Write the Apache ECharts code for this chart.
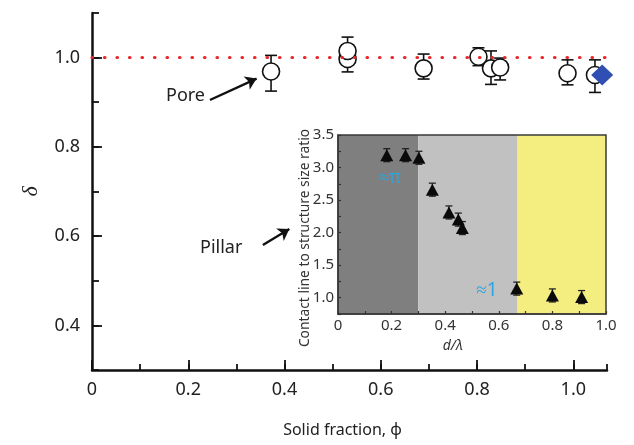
<!DOCTYPE html>
<html>
<head>
<meta charset="utf-8">
<script src="https://cdn.jsdelivr.net/npm/echarts@6/dist/echarts.min.js"></script>
<style>
  html, body { margin: 0; padding: 0; background: #ffffff; }
  #chart { width: 634px; height: 445px; }
</style>
</head>
<body>
<div id="chart"></div>
<script>
// ---- main plot: contact ratio delta vs solid fraction ----
const poreX  = [0.372, 0.531, 0.531, 0.689, 0.803, 0.829, 0.848, 0.988, 1.045];
const poreY  = [0.969, 0.997, 1.015, 0.976, 1.002, 0.976, 0.978, 0.965, 0.961];
const poreLo = [0.925, 0.968, 0.985, 0.952, 0.982, 0.940, 0.950, 0.939, 0.922];
const poreHi = [1.005, 1.025, 1.046, 1.008, 1.022, 1.015, 0.999, 0.995, 0.995];
const pillarX = [1.06];
const pillarY = [0.961];
const refLevel = 1.0;
const xMajorTicks = [0, 0.2, 0.4, 0.6, 0.8, 1.0];
const yMajorTicks = [0.4, 0.6, 0.8, 1.0];

// ---- inset: contact line to structure size ratio vs d/lambda ----
const insetX   = [0.182, 0.252, 0.302, 0.352, 0.414, 0.449, 0.464, 0.667, 0.800, 0.909];
const insetY   = [3.19, 3.19, 3.15, 2.66, 2.31, 2.20, 2.07, 1.14, 1.035, 1.01];
const insetErr = [0.10, 0.10, 0.10, 0.10, 0.10, 0.10, 0.10, 0.10, 0.10, 0.10];
const regionEdges  = [0, 0.3, 0.67, 1.0];
const regionColors = ['#7f7f7f', '#c1c1c1', '#f4ed80'];
const insetXTicks = [0, 0.2, 0.4, 0.6, 0.8, 1.0];
const insetYTicks = [1.0, 1.5, 2.0, 2.5, 3.0, 3.5];

const FONT = 'Noto Sans';
const fmt1 = v => (Math.abs(v) < 1e-9 ? '0' : v.toFixed(1));

function errorBarRenderer(capHalf, width, color) {
  return function (params, api) {
    const x = api.value(0);
    const top = api.coord([x, api.value(2)]);
    const bot = api.coord([x, api.value(1)]);
    const st = { stroke: color, lineWidth: width };
    return {
      type: 'group',
      children: [
        { type: 'line', shape: { x1: top[0], y1: top[1], x2: bot[0], y2: bot[1] }, style: st },
        { type: 'line', shape: { x1: top[0] - capHalf, y1: top[1], x2: top[0] + capHalf, y2: top[1] }, style: st },
        { type: 'line', shape: { x1: bot[0] - capHalf, y1: bot[1], x2: bot[0] + capHalf, y2: bot[1] }, style: st }
      ]
    };
  };
}

const mainErrData  = poreX.map((x, i) => [x, poreLo[i], poreHi[i]]);
const insetErrData = insetX.map((x, i) => [x, insetY[i] - insetErr[i], insetY[i] + insetErr[i]]);
const bands = regionColors.map((c, i) => [
  { xAxis: regionEdges[i], itemStyle: { color: c } },
  { xAxis: regionEdges[i + 1] }
]);

const axisColor = '#111';
const chart = echarts.init(document.getElementById('chart'), null, { renderer: 'canvas' });

chart.setOption({
  backgroundColor: '#ffffff',
  animation: false,
  grid: [
    { left: 92, right: 27, top: 13, bottom: 75 },
    { left: 338, right: 28, top: 135, bottom: 131, show: true, borderColor: '#3a3a3a', borderWidth: 1.5, backgroundColor: 'transparent', z: 10 }
  ],
  xAxis: [
    {
      gridIndex: 0, type: 'value', min: 0, max: 1.07, interval: 0.1, position: 'bottom',
      name: 'Solid fraction, \u03D5', nameLocation: 'middle', nameGap: 52,
      nameTextStyle: { fontFamily: FONT, fontSize: 16, color: '#222', padding: [0, 14, 0, 0] },
      axisLine: { show: true, lineStyle: { color: axisColor, width: 2.5 } },
      axisTick: { show: true, inside: true, length: 6, lineStyle: { color: axisColor, width: 1.8 } },
      axisLabel: { show: true, customValues: xMajorTicks, formatter: fmt1, margin: 11, fontFamily: FONT, fontSize: 18, color: '#222' },
      splitLine: { show: false }
    },
    {
      gridIndex: 0, type: 'value', min: 0, max: 1.07, interval: 0.1, position: 'bottom',
      axisLine: { show: false },
      axisTick: { show: true, inside: true, length: 10, customValues: xMajorTicks, lineStyle: { color: axisColor, width: 1.8 } },
      axisLabel: { show: false },
      splitLine: { show: false }
    },
    {
      gridIndex: 1, type: 'value', min: 0, max: 1, interval: 0.1, position: 'bottom', z: 12,
      axisLine: { show: true, lineStyle: { color: '#3a3a3a', width: 1.5 } },
      axisTick: { show: true, inside: true, length: 3, lineStyle: { color: '#333', width: 1.2 } },
      axisLabel: { show: true, customValues: insetXTicks, formatter: fmt1, margin: 4, fontFamily: FONT, fontSize: 15, color: '#333' },
      splitLine: { show: false }
    }
  ],
  yAxis: [
    {
      gridIndex: 0, type: 'value', min: 0.3, max: 1.1, interval: 0.1, position: 'left',
      name: '\u03B4', nameLocation: 'middle', nameGap: 50, nameRotate: 90,
      nameTextStyle: { fontFamily: 'Liberation Serif', fontStyle: 'italic', fontSize: 22, color: '#222' },
      axisLine: { show: true, lineStyle: { color: axisColor, width: 2.5 } },
      axisTick: { show: true, inside: true, length: 7, lineStyle: { color: axisColor, width: 1.8 } },
      axisLabel: { show: true, customValues: yMajorTicks, formatter: fmt1, margin: 12, fontFamily: FONT, fontSize: 18, color: '#222' },
      splitLine: { show: false }
    },
    {
      gridIndex: 0, type: 'value', min: 0.3, max: 1.1, interval: 0.1, position: 'left',
      axisLine: { show: false },
      axisTick: { show: true, inside: true, length: 10, customValues: yMajorTicks, lineStyle: { color: axisColor, width: 1.8 } },
      axisLabel: { show: false },
      splitLine: { show: false }
    },
    {
      gridIndex: 1, type: 'value', min: 0.75, max: 3.5, interval: 0.25, position: 'left', z: 12,
      axisLine: { show: true, lineStyle: { color: '#3a3a3a', width: 1.5 } },
      axisTick: { show: true, inside: true, length: 3, lineStyle: { color: '#333', width: 1.2 } },
      axisLabel: { show: true, customValues: insetYTicks, formatter: fmt1, margin: 4, fontFamily: FONT, fontSize: 15, color: '#333' },
      splitLine: { show: false }
    }
  ],
  series: [
    {
      // error bars for the pore-type data, with the delta = 1 reference line
      type: 'custom', xAxisIndex: 0, yAxisIndex: 0, z: 2,
      renderItem: errorBarRenderer(6, 1.6, '#111'),
      encode: { x: 0, y: [1, 2] },
      data: mainErrData,
      markLine: {
        silent: true, symbol: ['none', 'none'], label: { show: false },
        lineStyle: { color: '#e8262b', width: 3.2, type: [0.5, 12], cap: 'round' },
        data: [{ yAxis: refLevel }]
      }
    },
    {
      type: 'scatter', xAxisIndex: 0, yAxisIndex: 0, z: 3,
      symbol: 'circle', symbolSize: 17,
      itemStyle: { color: '#ffffff', borderColor: '#111', borderWidth: 1.6, opacity: 1 },
      data: poreX.map((x, i) => [x, poreY[i]]),
      markLine: {
        silent: true, symbol: ['none', 'arrow'], symbolSize: 11, label: { show: false },
        lineStyle: { color: '#111', width: 2.4, type: 'solid' },
        data: [
          [{ coord: [0.245, 0.905] }, { coord: [0.342, 0.953] }],
          [{ coord: [0.355, 0.58] }, { coord: [0.41, 0.616] }]
        ]
      }
    },
    {
      type: 'scatter', xAxisIndex: 0, yAxisIndex: 0, z: 4,
      symbol: 'diamond', symbolSize: [22, 21],
      itemStyle: { color: '#2f4fb2', opacity: 1 },
      data: pillarX.map((x, i) => [x, pillarY[i]])
    },
    {
      // shaded regimes of the inset
      type: 'scatter', xAxisIndex: 2, yAxisIndex: 2, z: 1, data: [],
      markArea: { silent: true, data: bands }
    },
    {
      type: 'custom', xAxisIndex: 2, yAxisIndex: 2, z: 3,
      renderItem: errorBarRenderer(3.5, 1.3, '#222'),
      encode: { x: 0, y: [1, 2] },
      data: insetErrData
    },
    {
      type: 'scatter', xAxisIndex: 2, yAxisIndex: 2, z: 4,
      symbol: 'triangle', symbolSize: [13, 12],
      itemStyle: { color: '#0a0a0a', opacity: 1 },
      data: insetX.map((x, i) => [x, insetY[i]])
    }
  ],
  graphic: [
    { type: 'text', left: 166, top: 87, style: { text: 'Pore', fontFamily: FONT, fontSize: 18, fill: '#222' } },
    { type: 'text', left: 200, top: 239, style: { text: 'Pillar', fontFamily: FONT, fontSize: 18, fill: '#222' } },
    { type: 'text', x: 390, y: 178, style: { text: '\u2248\u03C0', fontFamily: FONT, fontSize: 18, fill: '#2aa6e0', align: 'center', verticalAlign: 'middle' }, z: 20 },
    { type: 'text', x: 487, y: 291, style: { text: '\u22481', fontFamily: FONT, fontSize: 19, fill: '#2aa6e0', align: 'center', verticalAlign: 'middle' }, z: 20 },
    { type: 'text', x: 305, y: 238, rotation: Math.PI / 2, style: { text: 'Contact line to structure size ratio', fontFamily: FONT, fontSize: 13.8, fill: '#333', align: 'center', verticalAlign: 'middle' } },
    { type: 'text', x: 453, y: 346, style: { text: 'd/\u03BB', fontFamily: FONT, fontStyle: 'italic', fontSize: 14, fill: '#333', align: 'center', verticalAlign: 'middle' } }
  ]
});
</script>
</body>
</html>
